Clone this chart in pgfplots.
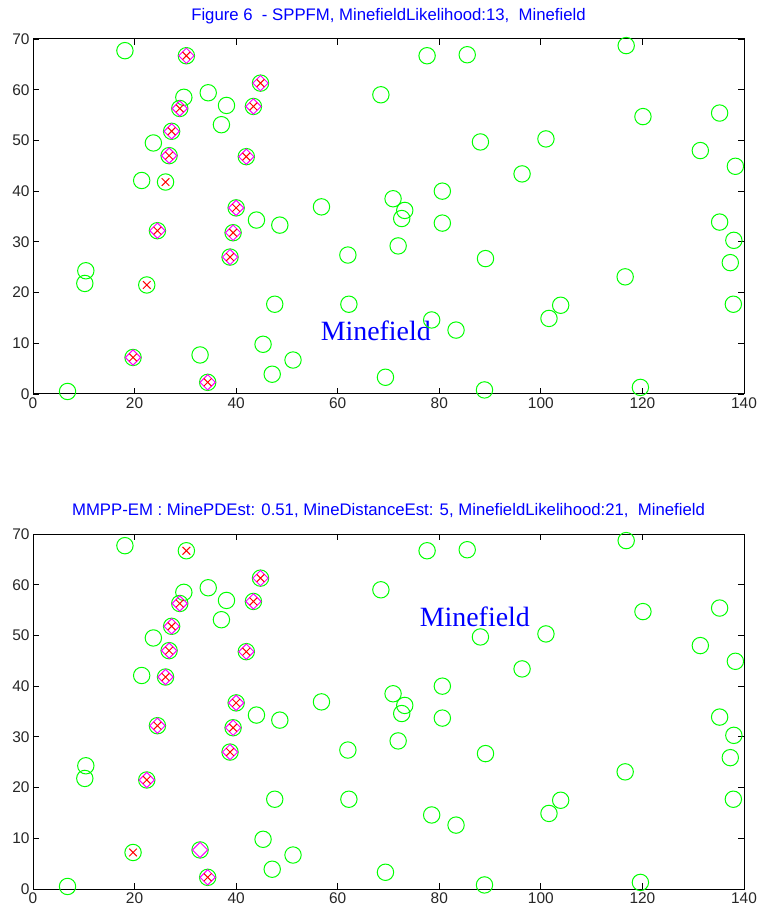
\documentclass[border=0pt]{standalone}
\usepackage{fontspec}
\setmainfont{Liberation Sans}
\newfontfamily\serifface{Liberation Serif}
\usepackage{pgfplots}
\usepackage{pgfplotstable}
\pgfplotsset{compat=1.18}

\definecolor{fieldgreen}{RGB}{0,255,0}
\definecolor{minered}{RGB}{255,0,0}
\definecolor{detmag}{RGB}{255,0,255}
\definecolor{titleblue}{RGB}{0,0,255}

% all candidate objects in the field
\pgfplotstableread{
x y
18.1 67.7
30.2 66.7
44.8 61.3
29.7 58.5
34.5 59.4
38.1 56.9
43.4 56.7
28.9 56.3
37.1 53.1
27.3 51.8
23.7 49.5
26.8 47.0
42.0 46.8
21.4 42.1
26.1 41.8
40.0 36.7
44.0 34.3
48.6 33.3
56.8 36.9
24.5 32.2
39.4 31.8
38.8 27.0
62.0 27.4
10.4 24.3
10.2 21.8
22.4 21.5
47.6 17.7
62.2 17.7
45.3 9.8
32.9 7.7
51.2 6.7
19.7 7.2
47.1 3.9
34.4 2.3
6.8 0.5
69.4 3.3
68.5 59.0
77.6 66.7
85.5 66.9
116.8 68.7
120.1 54.7
135.2 55.4
88.1 49.7
101.0 50.3
131.4 48.0
138.3 44.9
96.3 43.4
80.6 40.0
70.9 38.5
73.2 36.2
72.6 34.6
80.6 33.7
135.2 33.9
71.9 29.2
89.1 26.7
138.0 30.3
137.3 25.9
116.6 23.1
103.9 17.5
101.6 14.9
137.9 17.7
78.5 14.6
83.3 12.6
88.9 0.8
119.6 1.3
}\fieldtab

% true mine positions
\pgfplotstableread{
x y
30.2 66.7
44.8 61.3
43.4 56.7
28.9 56.3
27.3 51.8
26.8 47.0
42.0 46.8
26.1 41.8
40.0 36.7
24.5 32.2
39.4 31.8
38.8 27.0
22.4 21.5
19.7 7.2
34.4 2.3
}\minetab

% objects declared mines by SPPFM
\pgfplotstableread{
x y
30.2 66.7
44.8 61.3
43.4 56.7
28.9 56.3
27.3 51.8
26.8 47.0
42.0 46.8
40.0 36.7
24.5 32.2
39.4 31.8
38.8 27.0
19.7 7.2
34.4 2.3
}\sppfmtab

% objects declared mines by MMPP-EM
\pgfplotstableread{
x y
44.8 61.3
43.4 56.7
28.9 56.3
27.3 51.8
26.8 47.0
42.0 46.8
26.1 41.8
40.0 36.7
24.5 32.2
39.4 31.8
38.8 27.0
22.4 21.5
32.9 7.7
34.4 2.3
}\mmpptab

\pgfplotsset{
  fieldaxis/.style={
    scale only axis, width=711bp, height=355bp,
    anchor=south west,
    xmin=0, xmax=140, ymin=0, ymax=70,
    xtick={0,20,...,140}, ytick={0,10,...,70},
    tick align=inside, major tick length=6bp,
    tick style={black, line width=0.8bp},
    axis line style={black, line width=1bp},
    clip=false,
    /pgf/number format/assume math mode=true,
    tick label style={font=\fontsize{15.5}{18}\selectfont, text=black!85},
    title style={font=\fontsize{16.8}{20}\selectfont, text=titleblue,
                 at={(0.5,1)}, anchor=base, yshift=13bp},
  },
  objects/.style={only marks, mark=o, mark size=8.2bp, color=fieldgreen,
    mark options={line width=1bp}},
  declared/.style={only marks, mark=square, mark size=5.4bp, color=detmag,
    mark options={rotate=45, line width=1bp}},
  truemines/.style={only marks, mark=x, mark size=5.4bp, color=minered,
    mark options={line width=1bp}},
}

\begin{document}
\begin{tikzpicture}
\useasboundingbox (0,0) rectangle (761bp,913bp);

\begin{axis}[fieldaxis, at={(33bp,519bp)},
  title={Figure 6\ \ - SPPFM, MinefieldLikelihood:13,\ \ Minefield}]
  \addplot[objects] table {\fieldtab};
  \addplot[declared] table {\sppfmtab};
  \addplot[truemines] table {\minetab};
  \node[text=titleblue, font=\serifface\fontsize{28}{30}\selectfont]
    at (axis cs:67.5,12.5) {Minefield};
\end{axis}

\begin{axis}[fieldaxis, at={(33bp,24bp)},
  title={MMPP-EM : MinePDEst: 0.51, MineDistanceEst: 5, MinefieldLikelihood:21,\ \ Minefield}]
  \addplot[objects] table {\fieldtab};
  \addplot[declared] table {\mmpptab};
  \addplot[truemines] table {\minetab};
  \node[text=titleblue, font=\serifface\fontsize{28}{30}\selectfont]
    at (axis cs:87,53.6) {Minefield};
\end{axis}
\end{tikzpicture}
\end{document}
